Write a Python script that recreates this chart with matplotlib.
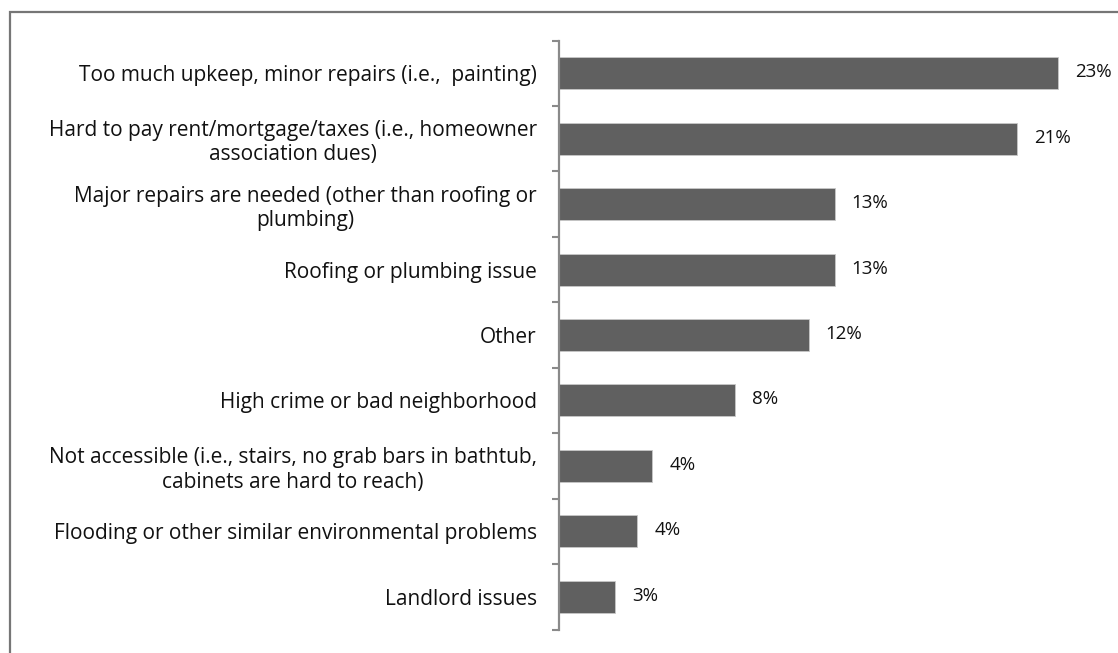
import matplotlib
matplotlib.use("Agg")
import matplotlib.pyplot as plt
from matplotlib.patches import Rectangle
from matplotlib.ticker import FixedLocator

categories = [
    "Too much upkeep, minor repairs (i.e.,  painting)",
    "Hard to pay rent/mortgage/taxes (i.e., homeowner\nassociation dues)",
    "Major repairs are needed (other than roofing or\nplumbing)",
    "Roofing or plumbing issue",
    "Other",
    "High crime or bad neighborhood",
    "Not accessible (i.e., stairs, no grab bars in bathtub,\ncabinets are hard to reach)",
    "Flooding or other similar environmental problems",
    "Landlord issues",
]
percent = [23.0, 21.1, 12.7, 12.7, 11.5, 8.1, 4.3, 3.6, 2.6]

plt.rcParams["font.family"] = ["Open Sans", "DejaVu Sans"]

W, H = 1118, 653
fig = plt.figure(figsize=(W / 100, H / 100), dpi=100)

# outer frame of the chart area
fig.patches.append(Rectangle((10 / W, -0.05), 1.2, (H - 12) / H + 0.05,
                             transform=fig.transFigure, fill=False,
                             edgecolor="#767676", linewidth=1.6))

ax_left, ax_right = 559 / W, 1069 / W
ax_top, ax_bottom = (H - 40.5) / H, (H - 629.5) / H
ax = fig.add_axes([ax_left, ax_bottom, ax_right - ax_left, ax_top - ax_bottom])

n = len(categories)
ypos = list(range(n))
ax.barh(ypos, percent, height=0.49, color="#606060",
        edgecolor="#c8c8c8", linewidth=0.6)
ax.set_xlim(0, 23.5)
ax.set_ylim(n - 0.5, -0.5)

for y, v in zip(ypos, percent):
    ax.annotate(f"{v:.0f}%", xy=(v, y), xytext=(17, 1),
                textcoords="offset pixels",
                va="center", ha="left", fontsize=13.5, color="#111111")

ax.set_yticks(ypos)
ax.set_yticklabels(categories, fontsize=15, color="#111111",
                   multialignment="center", linespacing=1.2)
ax.tick_params(axis="y", which="major", length=0, pad=16)
ax.yaxis.set_minor_locator(FixedLocator([i - 0.5 for i in range(n + 1)]))
ax.tick_params(axis="y", which="minor", length=5, width=1.5,
               color="#8a8a8a", direction="out")
ax.set_xticks([])

for side in ("top", "right", "bottom"):
    ax.spines[side].set_visible(False)
ax.spines["left"].set_color("#8a8a8a")
ax.spines["left"].set_linewidth(1.6)

fig.savefig("out.png", dpi=100)
